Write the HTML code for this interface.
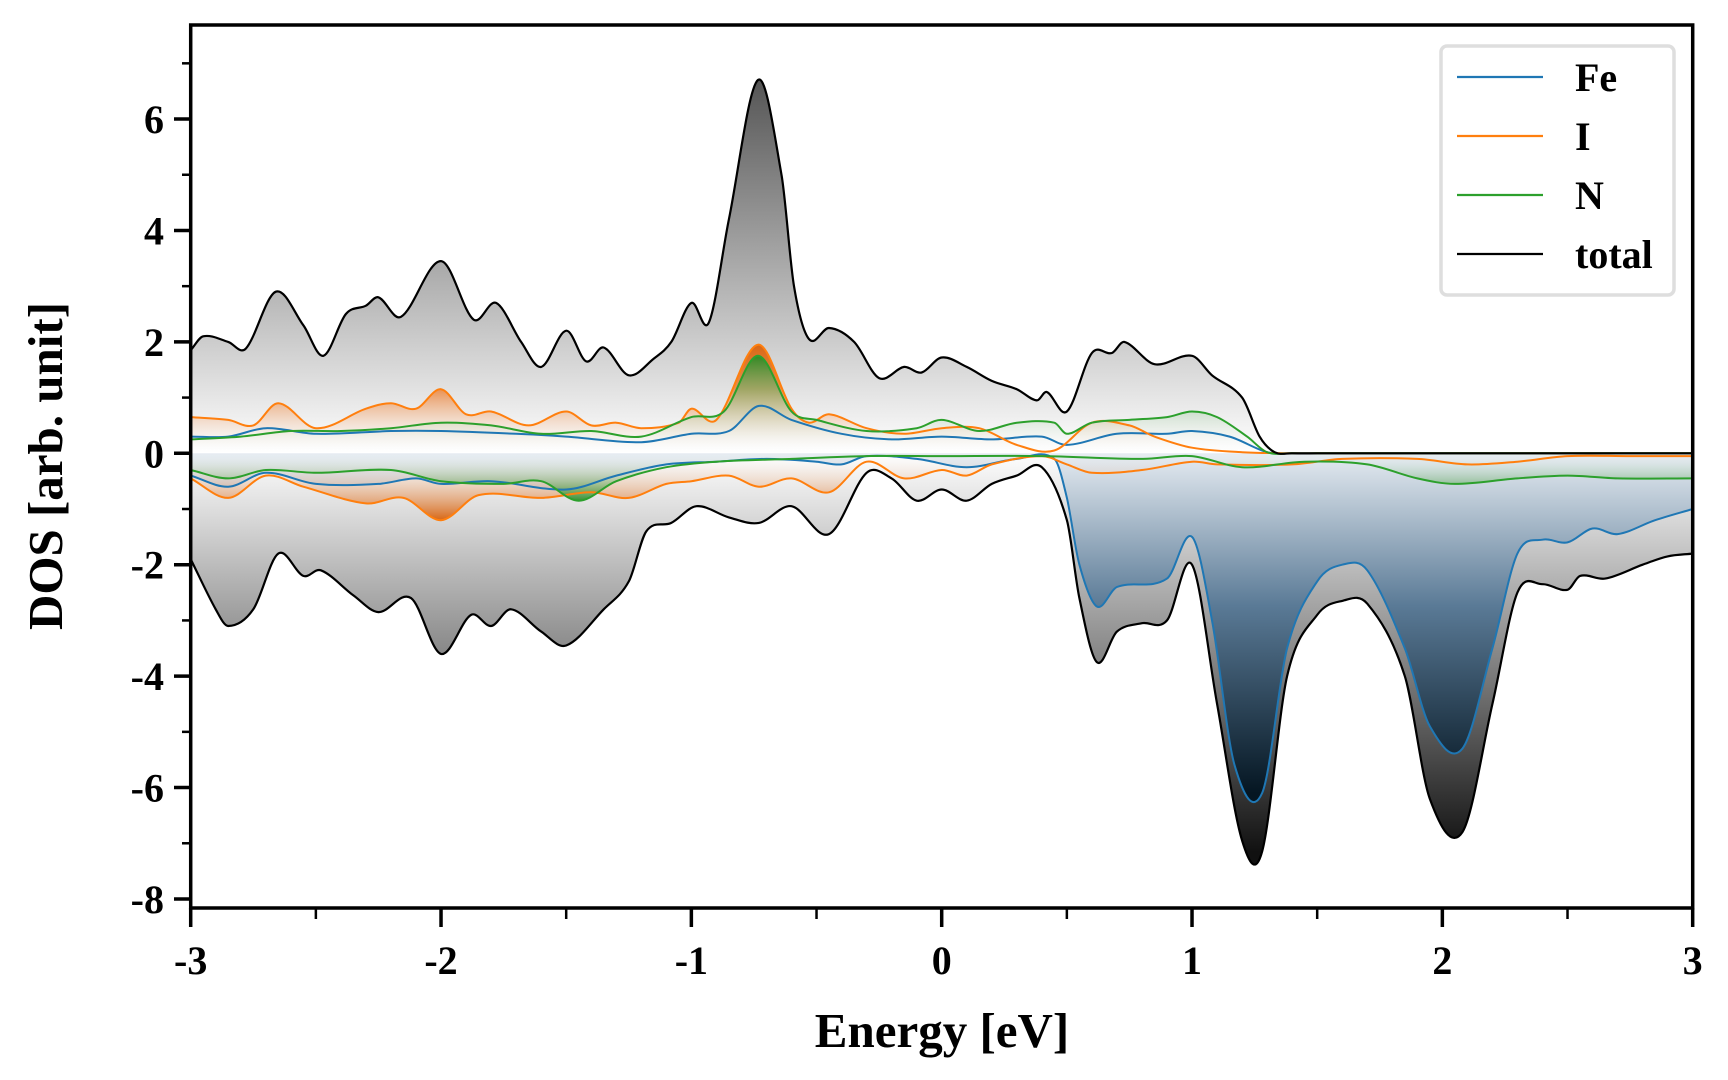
<!DOCTYPE html>
<html><head><meta charset="utf-8"><style>
html,body{margin:0;padding:0;background:#fff;}
svg{display:block;}
text{font-family:"Liberation Serif",serif;font-weight:bold;fill:#000;}
</style></head><body>
<svg id="s" width="1728" height="1080" viewBox="0 0 1728 1080" xmlns="http://www.w3.org/2000/svg">
<defs>
<linearGradient id="gTp" gradientUnits="userSpaceOnUse" x1="0" y1="453" x2="0" y2="80"><stop offset="0" stop-color="#fff"/><stop offset="1" stop-color="#555"/></linearGradient>
<linearGradient id="gTn" gradientUnits="userSpaceOnUse" x1="0" y1="453" x2="0" y2="852"><stop offset="0" stop-color="#fff"/><stop offset="1" stop-color="#111"/></linearGradient>
<linearGradient id="gFe" gradientUnits="userSpaceOnUse" x1="0" y1="453" x2="0" y2="793"><stop offset="0" stop-color="#e6ecf2"/><stop offset="0.45" stop-color="#5a7a96"/><stop offset="1" stop-color="#051622"/></linearGradient>
<linearGradient id="gIp" gradientUnits="userSpaceOnUse" x1="0" y1="453" x2="0" y2="345"><stop offset="0" stop-color="#fff" stop-opacity="0"/><stop offset="0.6" stop-color="#ea8a45"/><stop offset="1" stop-color="#d9620c"/></linearGradient>
<linearGradient id="gIn" gradientUnits="userSpaceOnUse" x1="0" y1="453" x2="0" y2="520"><stop offset="0" stop-color="#fff" stop-opacity="0"/><stop offset="1" stop-color="#d9620c"/></linearGradient>
<linearGradient id="gNp" gradientUnits="userSpaceOnUse" x1="0" y1="453" x2="0" y2="356"><stop offset="0" stop-color="#fff" stop-opacity="0"/><stop offset="1" stop-color="#2a8a25"/></linearGradient>
<linearGradient id="gNn" gradientUnits="userSpaceOnUse" x1="0" y1="453" x2="0" y2="500"><stop offset="0" stop-color="#fff" stop-opacity="0"/><stop offset="1" stop-color="#2a8a25"/></linearGradient>
<clipPath id="cp"><rect x="191" y="25" width="1502" height="883"/></clipPath>
</defs>
<g id="plot" clip-path="url(#cp)"></g>
<g id="axes"></g>
</svg>
<script>
const X=e=>190.7+(e+3)*250.33, Y=v=>453.3-v*55.71;
const Z=[[1.5,0],[1.7,0],[1.9,0],[2.1,0],[2.3,0],[2.5,0],[2.7,0],[2.9,0],[3,0]];
const D={
Tp:[[-3,1.85],[-2.95,2.1],[-2.85,2.0],[-2.78,1.88],[-2.66,2.9],[-2.55,2.3],[-2.47,1.75],[-2.38,2.5],[-2.3,2.65],[-2.25,2.8],[-2.16,2.45],[-2.0,3.45],[-1.87,2.4],[-1.78,2.7],[-1.68,2.0],[-1.6,1.55],[-1.5,2.2],[-1.42,1.65],[-1.35,1.9],[-1.25,1.4],[-1.15,1.7],[-1.08,2.0],[-1.0,2.7],[-0.93,2.35],[-0.85,4.2],[-0.734,6.7],[-0.64,5.0],[-0.59,3.0],[-0.53,2.05],[-0.45,2.25],[-0.35,2.0],[-0.25,1.35],[-0.15,1.55],[-0.08,1.45],[0,1.72],[0.1,1.55],[0.2,1.3],[0.3,1.15],[0.38,0.95],[0.42,1.1],[0.5,0.75],[0.6,1.8],[0.68,1.8],[0.73,2.0],[0.85,1.6],[1.0,1.75],[1.08,1.4],[1.2,1.0],[1.27,0.3],[1.33,0.02],[1.4,0]].concat(Z),
Tn:[[-3,-1.9],[-2.9,-2.8],[-2.85,-3.1],[-2.75,-2.8],[-2.65,-1.8],[-2.55,-2.2],[-2.48,-2.1],[-2.35,-2.55],[-2.25,-2.85],[-2.12,-2.6],[-2.0,-3.6],[-1.88,-2.9],[-1.8,-3.1],[-1.72,-2.8],[-1.6,-3.2],[-1.5,-3.45],[-1.35,-2.8],[-1.25,-2.3],[-1.18,-1.4],[-1.08,-1.25],[-0.98,-0.95],[-0.85,-1.15],[-0.73,-1.25],[-0.6,-0.95],[-0.45,-1.45],[-0.3,-0.35],[-0.2,-0.45],[-0.1,-0.85],[0,-0.65],[0.1,-0.85],[0.2,-0.55],[0.3,-0.4],[0.4,-0.25],[0.5,-1.2],[0.55,-2.6],[0.62,-3.75],[0.7,-3.2],[0.8,-3.05],[0.9,-3.0],[1.0,-2.0],[1.1,-4.5],[1.2,-6.95],[1.28,-7.15],[1.38,-4.0],[1.5,-2.9],[1.6,-2.65],[1.7,-2.7],[1.85,-4.0],[1.95,-6.2],[2.08,-6.8],[2.2,-4.5],[2.3,-2.5],[2.4,-2.35],[2.5,-2.45],[2.55,-2.2],[2.65,-2.25],[2.8,-2.0],[2.9,-1.85],[3,-1.8]],
Fp:[[-3,0.3],[-2.85,0.3],[-2.7,0.45],[-2.5,0.35],[-2.2,0.4],[-2.0,0.4],[-1.7,0.35],[-1.5,0.3],[-1.2,0.2],[-1.0,0.35],[-0.85,0.4],[-0.73,0.85],[-0.6,0.6],[-0.4,0.35],[-0.2,0.25],[0,0.3],[0.2,0.25],[0.4,0.3],[0.5,0.15],[0.7,0.35],[0.9,0.35],[1.0,0.4],[1.15,0.3],[1.3,0.02],[1.4,0]].concat(Z),
Fn:[[-3,-0.4],[-2.85,-0.6],[-2.7,-0.35],[-2.5,-0.55],[-2.25,-0.55],[-2.1,-0.45],[-2.0,-0.55],[-1.8,-0.5],[-1.5,-0.65],[-1.3,-0.4],[-1.1,-0.2],[-0.9,-0.15],[-0.7,-0.1],[-0.5,-0.15],[-0.4,-0.2],[-0.3,-0.05],[-0.1,-0.1],[0.1,-0.25],[0.3,-0.1],[0.45,-0.1],[0.5,-0.8],[0.55,-2.0],[0.62,-2.75],[0.7,-2.4],[0.9,-2.25],[1.0,-1.5],[1.08,-3.0],[1.17,-5.6],[1.28,-6.1],[1.38,-3.5],[1.5,-2.3],[1.6,-2.0],[1.7,-2.1],[1.85,-3.5],[1.95,-4.9],[2.08,-5.3],[2.2,-3.5],[2.3,-1.8],[2.4,-1.55],[2.5,-1.6],[2.6,-1.35],[2.7,-1.45],[2.85,-1.2],[3,-1.0]],
Ip:[[-3,0.65],[-2.85,0.6],[-2.75,0.5],[-2.65,0.9],[-2.5,0.45],[-2.3,0.8],[-2.2,0.9],[-2.1,0.8],[-2.0,1.15],[-1.9,0.7],[-1.8,0.75],[-1.65,0.5],[-1.5,0.75],[-1.4,0.5],[-1.3,0.55],[-1.2,0.45],[-1.05,0.55],[-1.0,0.8],[-0.9,0.6],[-0.734,1.95],[-0.6,0.8],[-0.53,0.55],[-0.45,0.7],[-0.3,0.45],[-0.15,0.35],[0,0.45],[0.15,0.45],[0.3,0.15],[0.45,0.05],[0.6,0.55],[0.75,0.5],[0.85,0.3],[1.0,0.1],[1.2,0.02],[1.4,0]].concat(Z),
In:[[-3,-0.45],[-2.85,-0.8],[-2.7,-0.4],[-2.55,-0.6],[-2.3,-0.9],[-2.15,-0.8],[-2.0,-1.2],[-1.85,-0.75],[-1.6,-0.8],[-1.4,-0.7],[-1.25,-0.8],[-1.1,-0.55],[-1.0,-0.5],[-0.85,-0.4],[-0.73,-0.6],[-0.6,-0.45],[-0.45,-0.7],[-0.3,-0.15],[-0.15,-0.45],[0,-0.3],[0.1,-0.4],[0.2,-0.2],[0.4,-0.05],[0.5,-0.2],[0.6,-0.35],[0.8,-0.3],[1.0,-0.15],[1.1,-0.2],[1.4,-0.2],[1.6,-0.1],[1.9,-0.1],[2.1,-0.2],[2.3,-0.15],[2.5,-0.05],[2.75,-0.05],[3,-0.05]],
Np:[[-3,0.25],[-2.8,0.3],[-2.6,0.4],[-2.4,0.4],[-2.2,0.45],[-2.0,0.55],[-1.8,0.5],[-1.6,0.35],[-1.4,0.4],[-1.2,0.3],[-1.0,0.65],[-0.87,0.75],[-0.734,1.75],[-0.6,0.75],[-0.5,0.6],[-0.3,0.4],[-0.1,0.45],[0,0.6],[0.15,0.4],[0.3,0.55],[0.45,0.55],[0.5,0.35],[0.6,0.55],[0.75,0.6],[0.9,0.65],[1.0,0.75],[1.1,0.65],[1.22,0.3],[1.3,0.02],[1.4,0]].concat(Z),
Nn:[[-3,-0.3],[-2.85,-0.45],[-2.7,-0.3],[-2.5,-0.35],[-2.2,-0.3],[-2.0,-0.5],[-1.75,-0.55],[-1.6,-0.5],[-1.45,-0.85],[-1.3,-0.5],[-1.1,-0.25],[-0.9,-0.15],[-0.6,-0.1],[-0.3,-0.05],[0,-0.05],[0.4,-0.05],[0.8,-0.1],[1.0,-0.05],[1.2,-0.25],[1.45,-0.15],[1.7,-0.2],[1.9,-0.45],[2.05,-0.55],[2.3,-0.45],[2.5,-0.4],[2.7,-0.45],[3,-0.45]]};
function path(pts){
 const p=pts.map(a=>[X(a[0]),Y(a[1])]);
 let d="M"+p[0][0].toFixed(1)+","+p[0][1].toFixed(1);
 for(let i=0;i<p.length-1;i++){
  const p0=p[Math.max(0,i-1)],p1=p[i],p2=p[i+1],p3=p[Math.min(p.length-1,i+2)];
  const dx=p2[0]-p1[0];
  let m1=(p2[1]-p0[1])/(p2[0]-p0[0]||1), m2=(p3[1]-p1[1])/(p3[0]-p1[0]||1);
  const c1=[p1[0]+dx/3,p1[1]+m1*dx/3];
  const c2=[p2[0]-dx/3,p2[1]-m2*dx/3];
  d+="C"+c1.map(v=>v.toFixed(1))+" "+c2.map(v=>v.toFixed(1))+" "+p2.map(v=>v.toFixed(1));
 }
 return d;
}
const NS="http://www.w3.org/2000/svg";
function el(par,tag,at,txt){const e=document.createElementNS(NS,tag);for(const k in at)e.setAttribute(k,at[k]);if(txt!==undefined)e.textContent=txt;par.appendChild(e);return e;}
const g=document.getElementById("plot"),ax=document.getElementById("axes");
const y0=Y(0).toFixed(1);
function fill(k,f,op){const d=path(D[k]);el(g,"path",{d:d+"L"+X(3)+","+y0+"L"+X(-3)+","+y0+"Z",fill:f,"fill-opacity":op||1});}
fill("Tp","url(#gTp)");fill("Tn","url(#gTn)");fill("Fn","url(#gFe)");
fill("Ip","url(#gIp)",0.95);fill("In","url(#gIn)",0.95);fill("Np","url(#gNp)",0.95);fill("Nn","url(#gNn)",0.9);
const col={T:"#000",F:"#1f77b4",I:"#ff7f0e",N:"#2ca02c"};
["Fp","Fn","Ip","In","Np","Nn","Tp","Tn"].forEach(k=>el(g,"path",{d:path(D[k]),fill:"none",stroke:col[k[0]],"stroke-width":k[0]=="T"?2.2:2}));
el(ax,"rect",{x:190.7,y:25,width:1502,height:883,fill:"none",stroke:"#000","stroke-width":3.5});
for(let v=-8;v<=7;v++){const y=Y(v);const maj=v%2==0;el(ax,"line",{x1:190.7,x2:maj?174:182,y1:y,y2:y,stroke:"#000","stroke-width":maj?3.5:2.5});
 if(maj)el(ax,"text",{x:164,y:y+14,"font-size":40,"text-anchor":"end"},String(v));}
for(let e=-3;e<=3.01;e+=0.5){const x=X(e);const maj=Math.abs(e-Math.round(e))<1e-6;el(ax,"line",{x1:x,x2:x,y1:908,y2:maj?927:919,stroke:"#000","stroke-width":maj?3.5:2.5});
 if(maj)el(ax,"text",{x:x,y:974,"font-size":40,"text-anchor":"middle"},String(Math.round(e)));}
el(ax,"text",{x:942,y:1047,"font-size":49,"text-anchor":"middle"},"Energy [eV]");
el(ax,"text",{x:0,y:0,"font-size":49,"text-anchor":"middle",transform:"translate(62,466) rotate(-90)"},"DOS [arb. unit]");
el(ax,"rect",{x:1441,y:46,width:233,height:249,rx:6,fill:"#fff","fill-opacity":0.9,stroke:"#dedede","stroke-width":3.5});
[["Fe","#1f77b4",77],["I","#ff7f0e",136],["N","#2ca02c",195],["total","#000",254]].forEach(a=>{
 el(ax,"line",{x1:1457,x2:1543,y1:a[2],y2:a[2],stroke:a[1],"stroke-width":2.2});
 el(ax,"text",{x:1575,y:a[2]+14,"font-size":40},a[0]);});
</script>
</body></html>
